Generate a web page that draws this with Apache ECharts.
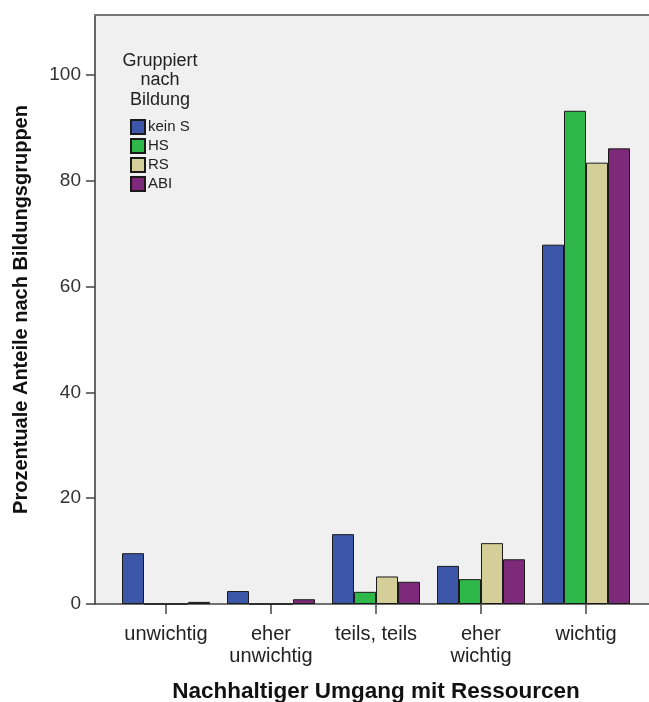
<!DOCTYPE html>
<html>
<head>
<meta charset="utf-8">
<script src="https://cdn.jsdelivr.net/npm/echarts@6/dist/echarts.min.js"></script>
<style>html,body{margin:0;padding:0;background:#fff;}#c{width:649px;height:702px;}</style>
</head>
<body>
<div id="c"></div>
<script>
var categories = ['unwichtig', 'eher\nunwichtig', 'teils, teils', 'eher\nwichtig', 'wichtig'];
var seriesNames = ['kein S', 'HS', 'RS', 'ABI'];
var keinS = [9.6, 2.45, 13.2, 7.2, 67.9];
var HS = [0, 0, 2.3, 4.7, 93.2];
var RS = [0, 0, 5.2, 11.5, 83.4];
var ABI = [0.4, 0.9, 4.2, 8.45, 86.1];
var yTicks = [0, 20, 40, 60, 80, 100];
var colors = ['#3d57a8', '#2fb84a', '#d4cf98', '#7d2a7a'];
var values = [keinS, HS, RS, ABI];
var FONT = 'Liberation Sans, Arial, sans-serif';
var YMAX = 111.3;

var chart = echarts.init(document.getElementById('c'));
var series = seriesNames.map(function (n, i) {
  return {
    name: n, type: 'bar', xAxisIndex: 2, yAxisIndex: 1,
    data: values[i], barWidth: 22, barGap: '0%',
    itemStyle: { color: colors[i], borderColor: '#1a1a1a', borderWidth: 1 }
  };
});
chart.setOption({
  animation: false,
  backgroundColor: '#ffffff',
  title: {
    text: 'Gruppiert\nnach\nBildung', left: 160, top: 51, textAlign: 'center', padding: 0,
    textStyle: { fontFamily: FONT, fontSize: 18, fontWeight: 'normal', color: '#222', lineHeight: 19.5 }
  },
  legend: {
    orient: 'vertical', left: 130, top: 119, itemWidth: 14, itemHeight: 14, itemGap: 3, padding: 0,
    icon: 'rect', data: seriesNames,
    textStyle: { fontFamily: FONT, fontSize: 15, color: '#222', padding: [0, 0, 0, -2] }
  },
  grid: [
    { left: 95, top: 15, width: 557, height: 589, show: true, backgroundColor: '#f0f0f0', borderWidth: 0, outerBoundsMode: 'none', containLabel: false },
    { left: 113.5, top: 15, width: 525, height: 589, outerBoundsMode: 'none', containLabel: false }
  ],
  xAxis: [
    { gridIndex: 0, type: 'category', data: [''], position: 'bottom',
      axisLine: { show: true, lineStyle: { color: '#444', width: 1.5 } },
      axisTick: { show: false }, axisLabel: { show: false } },
    { gridIndex: 0, type: 'category', data: [''], position: 'top',
      axisLine: { show: true, lineStyle: { color: '#777', width: 2 } },
      axisTick: { show: false }, axisLabel: { show: false } },
    { gridIndex: 1, type: 'category', data: categories, position: 'bottom',
      axisLine: { show: false },
      axisTick: { show: true, interval: 0, alignWithLabel: true, length: 10, lineStyle: { color: '#444', width: 1.5 } },
      axisLabel: { interval: 0, hideOverlap: false, fontFamily: FONT, fontSize: 20, color: '#222', margin: 19, lineHeight: 22 },
      name: 'Nachhaltiger Umgang mit Ressourcen', nameLocation: 'middle', nameGap: 76,
      nameTextStyle: { fontFamily: FONT, fontSize: 22.5, fontWeight: 'bold', color: '#111' } }
  ],
  yAxis: [
    { gridIndex: 0, type: 'value', min: 0, max: YMAX, interval: 20,
      axisLine: { show: true, lineStyle: { color: '#666', width: 2 } },
      axisTick: { show: true, customValues: yTicks, length: 9, lineStyle: { color: '#444', width: 1.5 } },
      axisLabel: { customValues: yTicks, fontFamily: FONT, fontSize: 19, color: '#333', margin: 14,
        formatter: function (v) { return yTicks.indexOf(v) >= 0 ? String(v) : ''; } },
      splitLine: { show: false },
      name: 'Prozentuale Anteile nach Bildungsgruppen', nameLocation: 'middle', nameGap: 64,
      nameTextStyle: { fontFamily: FONT, fontSize: 20, fontWeight: 'bold', color: '#111' } },
    { gridIndex: 1, type: 'value', min: 0, max: YMAX, show: false, splitLine: { show: false } }
  ],
  series: series
});
</script>
</body>
</html>
